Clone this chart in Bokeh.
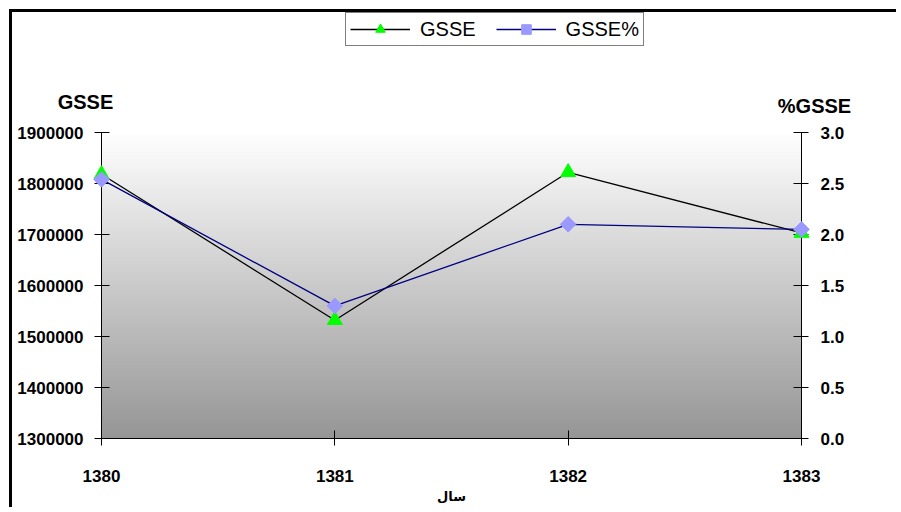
import numpy as np
from bokeh.plotting import figure
from bokeh.models import (Range1d, LinearAxis, FixedTicker, PrintfTickFormatter,
                          Legend, LegendItem)
from bokeh.core.properties import value
from bokeh.embed import file_html
from bokeh.resources import INLINE

# ---- data ----
years = [1380, 1381, 1382, 1383]
year_labels = ["1380", "1381", "1382", "1383"]
gsse = [1818000, 1532000, 1822000, 1703000]
gsse_pct = [2.54, 1.30, 2.10, 2.05]
left_ticks = [1300000, 1400000, 1500000, 1600000, 1700000, 1800000, 1900000]
right_ticks = [0.0, 0.5, 1.0, 1.5, 2.0, 2.5, 3.0]

FONT = "Liberation Sans"

# the plot area (axes span) is 306 px tall; the frame extends up to the top of
# the canvas (426 px) so that the legend and axis titles are drawn inside it.
AXIS_PX = 306
FRAME_PX = 426
ext = FRAME_PX / AXIS_PX
y_top = left_ticks[0] + (left_ticks[-1] - left_ticks[0]) * ext
pct_top = right_ticks[0] + (right_ticks[-1] - right_ticks[0]) * ext

p = figure(width=887, height=498, output_backend="svg", toolbar_location=None,
           x_range=Range1d(years[0], years[-1]),
           y_range=Range1d(left_ticks[0], y_top),
           min_border_left=89, min_border_right=98, min_border_top=0,
           min_border_bottom=72)
p.extra_y_ranges = {"pct": Range1d(right_ticks[0], pct_top)}

p.outline_line_color = None
p.xgrid.visible = False
p.ygrid.visible = False
p.background_fill_color = "white"
p.border_fill_color = "white"
p.styles = {"margin-left": "9px", "margin-top": "9px",
            "border-left": "3px solid black", "border-top": "3px solid black"}

# gradient background of the plot area
n = 300
shade = np.linspace(150, 255, n).astype(np.uint32)
img = np.empty((n, 1), dtype=np.uint32)
view = img.view(dtype=np.uint8).reshape((n, 1, 4))
view[:, 0, 0] = shade
view[:, 0, 1] = shade
view[:, 0, 2] = shade
view[:, 0, 3] = 255
p.image_rgba(image=[img], x=years[0], y=left_ticks[0],
             dw=years[-1] - years[0], dh=left_ticks[-1] - left_ticks[0])

# series
l1 = p.line(years, gsse, line_color="black", line_width=1.3)
m1 = p.scatter(years, gsse, marker="triangle", size=15, fill_color="#00FF00",
               line_color="#00FF00")
l2 = p.line(years, gsse_pct, line_color="#000080", line_width=1.3, y_range_name="pct")
m2 = p.scatter(years, gsse_pct, marker="square", angle=np.pi / 4, size=11,
               fill_color="#9999FF", line_color="#9999FF", y_range_name="pct")
for r in (l1, m1, l2, m2):
    r.level = "overlay"

# axes styling
def style_axis(ax):
    ax.axis_line_color = "black"
    ax.major_tick_line_color = "black"
    ax.minor_tick_line_color = None
    ax.major_tick_in = 8
    ax.major_tick_out = 7
    ax.major_label_text_font = FONT
    ax.major_label_text_font_style = "bold"
    ax.major_label_text_font_size = "17px"
    ax.major_label_text_color = "black"

xa = p.xaxis[0]
style_axis(xa)
xa.ticker = FixedTicker(ticks=years)
xa.major_label_overrides = {y: s for y, s in zip(years, year_labels)}
xa.major_label_standoff = 24
xa.axis_label = "سال"
xa.axis_label_text_font = "DejaVu Sans"
xa.axis_label_text_font_style = "bold"
xa.axis_label_text_font_size = "13px"
xa.axis_label_text_color = "black"
xa.axis_label_standoff = 4

ya = p.yaxis[0]
style_axis(ya)
ya.bounds = (left_ticks[0], left_ticks[-1])
ya.ticker = FixedTicker(ticks=left_ticks)
ya.major_label_overrides = {t: str(t) for t in left_ticks}
ya.major_label_standoff = 11

ra = LinearAxis(y_range_name="pct", bounds=(right_ticks[0], right_ticks[-1]))
style_axis(ra)
ra.ticker = FixedTicker(ticks=right_ticks)
ra.formatter = PrintfTickFormatter(format="%.1f")
ra.major_label_standoff = 12
p.add_layout(ra, "right")

# axis titles (text glyphs anchored at the top corners of the axes, offset in pixels)
t1 = p.text(x=[years[0]], y=[left_ticks[-1]], text=["GSSE"], x_offset=-16, y_offset=-31,
            text_font=value(FONT), text_font_style="bold", text_font_size="20px",
            text_align="center", text_baseline="middle", text_color="black")
t2 = p.text(x=[years[-1]], y=[left_ticks[-1]], text=["%GSSE"], x_offset=13, y_offset=-27,
            text_font=value(FONT), text_font_style="bold", text_font_size="20px",
            text_align="center", text_baseline="middle", text_color="black")
t1.level = "overlay"
t2.level = "overlay"

legend = Legend(items=[LegendItem(label="GSSE", renderers=[l1, m1]),
                       LegendItem(label="GSSE%", renderers=[l2, m2])],
                location=(244, 392), orientation="horizontal",
                border_line_color="black", border_line_width=1,
                background_fill_color="white", background_fill_alpha=1,
                label_text_font=FONT, label_text_font_size="20px",
                label_text_color="black",
                glyph_width=60, glyph_height=24, label_standoff=10, spacing=20,
                padding=4, margin=0)
p.add_layout(legend, "center")

open("out.html", "w").write(file_html(p, INLINE))
